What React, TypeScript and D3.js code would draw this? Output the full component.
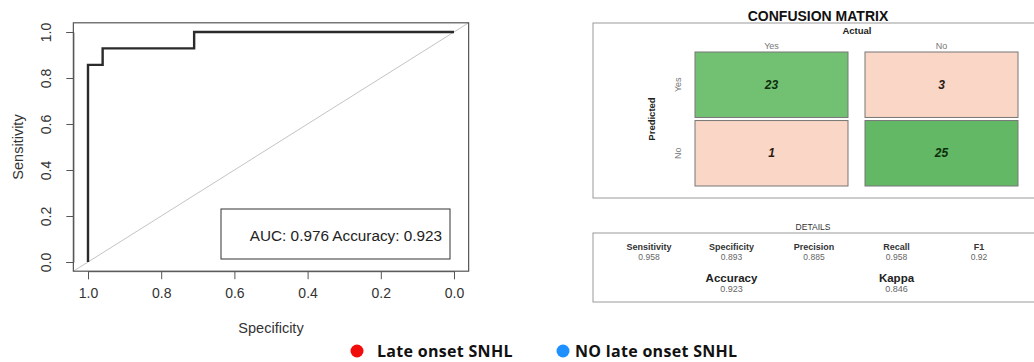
import React, { useRef, useEffect } from 'react';
import * as d3 from 'd3';

// ROC curve (specificity runs 1 -> 0 on the x axis)
const rocSpecificity = [1, 1, 0.96, 0.96, 0.71, 0.71, 0];
const rocSensitivity = [0, 0.857, 0.857, 0.929, 0.929, 1, 1];
const rocTicks = [0, 0.2, 0.4, 0.6, 0.8, 1.0];
const rocLegend = 'AUC: 0.976 Accuracy: 0.923';

// confusion matrix
const actualLabels = ['Yes', 'No'];
const predictedLabels = ['Yes', 'No'];
const cmCounts = [
  [23, 3],
  [1, 25],
];

// details panel
const detailLabels = ['Sensitivity', 'Specificity', 'Precision', 'Recall', 'F1'];
const detailValues = ['0.958', '0.893', '0.885', '0.958', '0.92'];
const summaryLabels = ['Accuracy', 'Kappa'];
const summaryValues = ['0.923', '0.846'];

// bottom legend
const legendLabels = ['Late onset SNHL', 'NO late onset SNHL'];
const legendColors = ['#f20d0d', '#1e90ff'];

const App = () => {
  const svgRef = useRef(null);

  useEffect(() => {
    const svg = d3.select(svgRef.current);
    svg.selectAll('*').remove();

    const font = 'Liberation Sans, Arial, sans-serif';

    // ---------- ROC plot ----------
    const x = d3.scaleLinear().domain([1, 0]).range([88, 454]);
    const y = d3.scaleLinear().domain([0, 1]).range([262, 32]);
    const x0 = x(1.04), x1 = x(-0.04), y0 = y(-0.04), y1 = y(1.04);

    const roc = svg.append('g');

    roc.append('line')
      .attr('x1', x0).attr('y1', y0)
      .attr('x2', x1).attr('y2', y1)
      .attr('stroke', '#c4c4c4')
      .attr('stroke-width', 1);

    roc.append('rect')
      .attr('x', x0).attr('y', y1)
      .attr('width', x1 - x0).attr('height', y0 - y1)
      .attr('fill', 'none')
      .attr('stroke', '#555')
      .attr('stroke-width', 1.2);

    const pts = rocSpecificity.map((s, i) => [s, rocSensitivity[i]]);
    const line = d3.line().x(d => x(d[0])).y(d => y(d[1]));
    roc.append('path')
      .attr('d', line(pts))
      .attr('fill', 'none')
      .attr('stroke', '#2b2b2b')
      .attr('stroke-width', 2.4);

    const xAxis = roc.append('g')
      .attr('transform', `translate(0,${y0})`)
      .call(d3.axisBottom(x).tickValues(rocTicks).tickFormat(d3.format('.1f')).tickSize(8).tickPadding(9));
    xAxis.select('.domain').attr('stroke', '#555');
    xAxis.selectAll('line').attr('stroke', '#555');
    xAxis.selectAll('text').attr('font-family', font).attr('font-size', 14).attr('fill', '#333');

    const yAxis = roc.append('g')
      .attr('transform', `translate(${x0},0)`)
      .call(d3.axisLeft(y).tickValues(rocTicks).tickFormat(d3.format('.1f')).tickSize(7).tickPadding(0));
    yAxis.select('.domain').attr('stroke', '#555');
    yAxis.selectAll('line').attr('stroke', '#555');
    yAxis.selectAll('.tick text')
      .attr('font-family', font).attr('font-size', 14).attr('fill', '#333')
      .attr('text-anchor', 'middle')
      .attr('x', 0).attr('y', 0)
      .attr('transform', 'translate(-27,0) rotate(-90)')
      .attr('dy', '0.35em');

    roc.append('text')
      .attr('x', (x0 + x1) / 2).attr('y', 333)
      .attr('text-anchor', 'middle')
      .attr('font-family', font).attr('font-size', 14.5).attr('fill', '#333')
      .text('Specificity');

    roc.append('text')
      .attr('transform', `translate(23,${(y0 + y1) / 2}) rotate(-90)`)
      .attr('text-anchor', 'middle')
      .attr('font-family', font).attr('font-size', 14.5).attr('fill', '#333')
      .text('Sensitivity');

    roc.append('rect')
      .attr('x', 221).attr('y', 209)
      .attr('width', 229).attr('height', 50)
      .attr('fill', 'white')
      .attr('stroke', '#333').attr('stroke-width', 1);
    roc.append('text')
      .attr('x', 442).attr('y', 241)
      .attr('text-anchor', 'end')
      .attr('font-family', font).attr('font-size', 15.3).attr('fill', '#222')
      .text(rocLegend);

    // ---------- Confusion matrix ----------
    const cm = svg.append('g');
    cm.append('text')
      .attr('x', 818).attr('y', 21)
      .attr('text-anchor', 'middle')
      .attr('font-family', font).attr('font-size', 14).attr('font-weight', 'bold').attr('fill', '#111')
      .text('CONFUSION MATRIX');

    cm.append('rect')
      .attr('x', 593).attr('y', 23)
      .attr('width', 450).attr('height', 175)
      .attr('fill', 'none').attr('stroke', '#999').attr('stroke-width', 1);

    cm.append('text')
      .attr('x', 857).attr('y', 34)
      .attr('text-anchor', 'middle')
      .attr('font-family', font).attr('font-size', 9.5).attr('font-weight', 'bold').attr('fill', '#222')
      .text('Actual');

    const cx = d3.scaleBand().domain(actualLabels).range([695, 1018]).paddingInner(0.1);
    const cy = d3.scaleBand().domain(predictedLabels).range([52, 186]).paddingInner(0.045);
    const fillFor = (r, c, v) => (r === c ? (v < 24 ? '#72c172' : '#62b864') : '#f9d6c5');

    cm.selectAll('.col-label')
      .data(actualLabels)
      .enter().append('text')
      .attr('x', d => cx(d) + cx.bandwidth() / 2)
      .attr('y', 49)
      .attr('text-anchor', 'middle')
      .attr('font-family', font).attr('font-size', 9).attr('fill', '#777')
      .text(d => d);

    cm.selectAll('.row-label')
      .data(predictedLabels)
      .enter().append('text')
      .attr('transform', d => `translate(681,${cy(d) + cy.bandwidth() / 2}) rotate(-90)`)
      .attr('text-anchor', 'middle')
      .attr('font-family', font).attr('font-size', 9).attr('fill', '#777')
      .text(d => d);

    cm.append('text')
      .attr('transform', `translate(655,119) rotate(-90)`)
      .attr('text-anchor', 'middle')
      .attr('font-family', font).attr('font-size', 9.5).attr('font-weight', 'bold').attr('fill', '#222')
      .text('Predicted');

    const cells = [];
    predictedLabels.forEach((p, r) => {
      actualLabels.forEach((a, c) => cells.push({ p, a, r, c, v: cmCounts[r][c] }));
    });

    cm.selectAll('.cell')
      .data(cells)
      .enter().append('rect')
      .attr('x', d => cx(d.a)).attr('y', d => cy(d.p))
      .attr('width', cx.bandwidth()).attr('height', cy.bandwidth())
      .attr('fill', d => fillFor(d.r, d.c, d.v))
      .attr('stroke', '#777').attr('stroke-width', 1);

    cm.selectAll('.cell-text')
      .data(cells)
      .enter().append('text')
      .attr('x', d => cx(d.a) + cx.bandwidth() / 2)
      .attr('y', d => cy(d.p) + cy.bandwidth() / 2)
      .attr('dy', '0.35em')
      .attr('text-anchor', 'middle')
      .attr('font-family', font).attr('font-size', 12).attr('font-weight', 'bold').attr('font-style', 'italic')
      .attr('fill', d => (d.r === d.c ? '#0d2e0d' : '#2a1a14'))
      .text(d => d.v);

    // ---------- Details ----------
    const det = svg.append('g');
    det.append('text')
      .attr('x', 813).attr('y', 230)
      .attr('text-anchor', 'middle')
      .attr('font-family', font).attr('font-size', 8.5).attr('fill', '#333')
      .text('DETAILS');
    det.append('rect')
      .attr('x', 593).attr('y', 233)
      .attr('width', 450).attr('height', 69)
      .attr('fill', 'none').attr('stroke', '#999').attr('stroke-width', 1);

    const dx = d3.scalePoint().domain(detailLabels).range([649, 979]);
    det.selectAll('.dl')
      .data(detailLabels)
      .enter().append('text')
      .attr('x', d => dx(d)).attr('y', 250)
      .attr('text-anchor', 'middle')
      .attr('font-family', font).attr('font-size', 9).attr('font-weight', 'bold').attr('fill', '#333')
      .text(d => d);
    det.selectAll('.dv')
      .data(detailValues)
      .enter().append('text')
      .attr('x', (d, i) => dx(detailLabels[i])).attr('y', 260)
      .attr('text-anchor', 'middle')
      .attr('font-family', font).attr('font-size', 8.5).attr('fill', '#666')
      .text(d => d);

    const sx = [dx('Specificity'), dx('Recall')];
    det.selectAll('.sl')
      .data(summaryLabels)
      .enter().append('text')
      .attr('x', (d, i) => sx[i]).attr('y', 282)
      .attr('text-anchor', 'middle')
      .attr('font-family', font).attr('font-size', 11.5).attr('font-weight', 'bold').attr('fill', '#222')
      .text(d => d);
    det.selectAll('.sv')
      .data(summaryValues)
      .enter().append('text')
      .attr('x', (d, i) => sx[i]).attr('y', 292)
      .attr('text-anchor', 'middle')
      .attr('font-family', font).attr('font-size', 9).attr('fill', '#666')
      .text(d => d);

    // ---------- bottom legend ----------
    const lg = svg.append('g');
    const lx = [357, 563];
    lg.selectAll('circle')
      .data(legendColors)
      .enter().append('circle')
      .attr('cx', (d, i) => lx[i]).attr('cy', 351)
      .attr('r', 6.5)
      .attr('fill', d => d);
    lg.selectAll('text')
      .data(legendLabels)
      .enter().append('text')
      .attr('x', (d, i) => lx[i] + (i === 0 ? 20 : 12)).attr('y', 357)
      .attr('font-family', 'Open Sans, sans-serif').attr('font-size', 16).attr('letter-spacing', 0.3)
      .attr('font-weight', 'bold').attr('fill', '#111')
      .text(d => d);
  }, []);

  return (
    <svg ref={svgRef} width="1034" height="362"
      style={{ position: 'absolute', left: 0, top: 0, background: 'white' }} />
  );
};

export default App;
